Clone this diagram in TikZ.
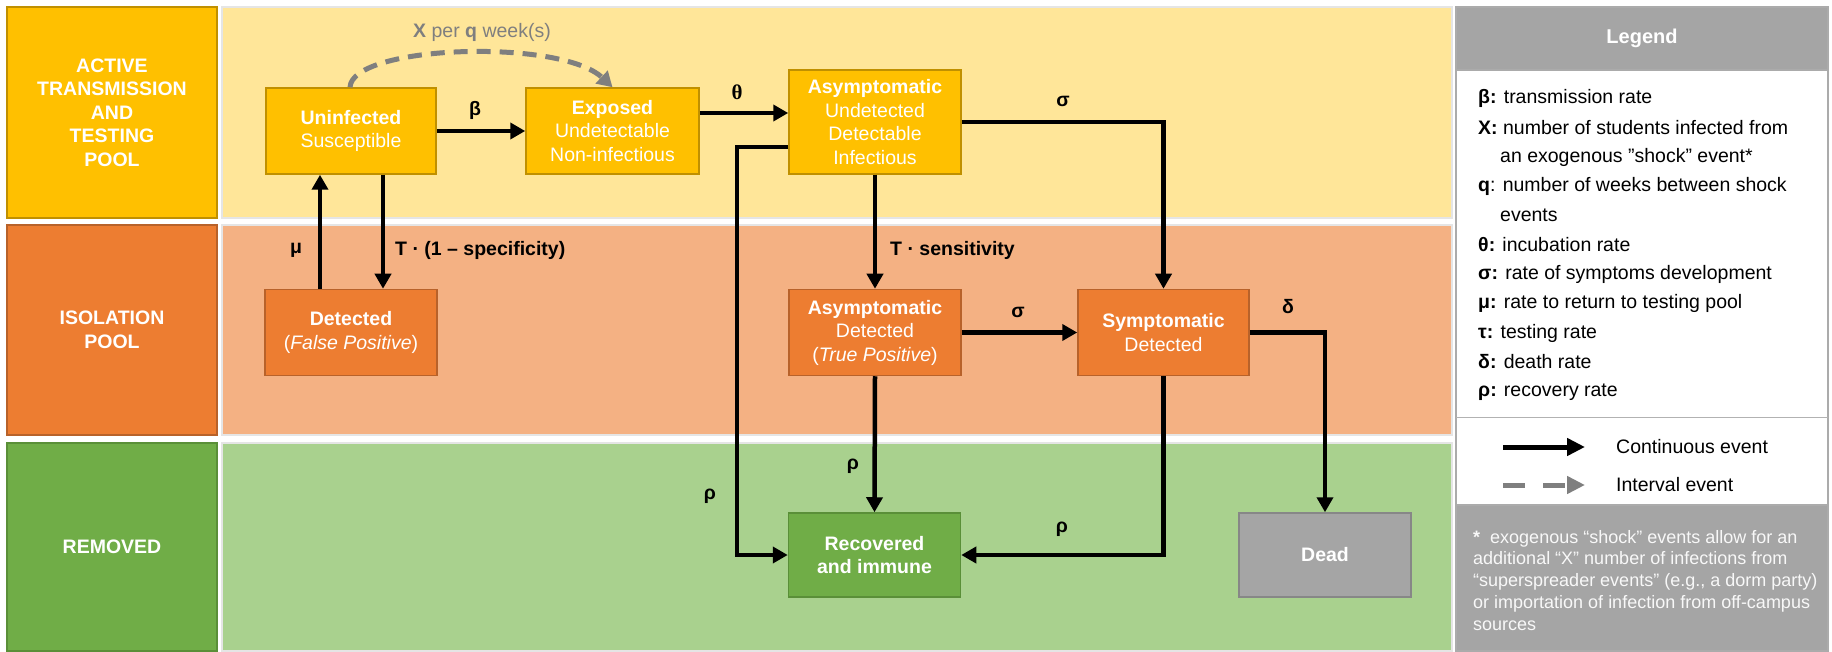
\documentclass[tikz,border=0pt]{standalone}
\usepackage{fontspec}
\setmainfont{Liberation Sans}
\newfontfamily\thetafont{Liberation Serif}
\usetikzlibrary{arrows.meta}
\definecolor{actL}{HTML}{FFC000}
\definecolor{actB}{HTML}{FFE699}
\definecolor{actD}{HTML}{C09000}
\definecolor{isoL}{HTML}{ED7D31}
\definecolor{isoB}{HTML}{F4B183}
\definecolor{isoD}{HTML}{B8622A}
\definecolor{remL}{HTML}{70AD47}
\definecolor{remB}{HTML}{A9D18E}
\definecolor{remD}{HTML}{5A8F38}
\definecolor{gryF}{HTML}{A5A5A5}
\definecolor{gryD}{HTML}{878787}
\definecolor{dashc}{HTML}{7F7F7F}
\newcommand\dfont{\fontsize{19.5}{23.5}\selectfont}
\newcommand\nfont{\fontsize{18}{21.7}\selectfont}
\begin{document}
\begin{tikzpicture}[x=1pt,y=-1pt,
  band/.style={draw=black!10, line width=1.2pt},
  pool/.style={draw, line width=1.5pt, text=white, font=\dfont\bfseries, align=center, inner sep=0pt, minimum width=210pt, minimum height=210pt},
  box/.style={draw, line width=1.5pt, minimum width=172pt, minimum height=86pt, text=white, font=\dfont, align=center, inner sep=0pt},
  arr/.style={line width=4.5pt, -{Triangle[length=15pt,width=16pt]}},
  dasharr/.style={line width=5pt, draw=dashc, dash pattern=on 14pt off 9pt, -{Triangle[length=15pt,width=17pt,fill=dashc]}},
  lbl/.style={font=\dfont\bfseries, inner sep=0pt},
  leg/.style={font=\dfont, anchor=west, inner sep=0pt},
]
\useasboundingbox (0,0) rectangle (1832,652);
\fill[white] (0,0) rectangle (1832,652);
% bands
\filldraw[band, fill=actB] (222,7) rectangle (1452,218);
\filldraw[band, fill=isoB] (222,225) rectangle (1452,435);
\filldraw[band, fill=remB] (222,443) rectangle (1452,651);
% pool labels
\node[pool, fill=actL, draw=actD, minimum height=211pt] (pa) at (112,112.5) {ACTIVE\\TRANSMISSION\\AND\\TESTING\\POOL};
\node[pool, fill=isoL, draw=isoD] (pi) at (112,330) {ISOLATION\\POOL};
\node[pool, fill=remL, draw=remD, minimum height=208pt] (pr) at (112,547) {REMOVED};
% compartments
\node[box, fill=actL, draw=actD, minimum width=170pt] (unf) at (351,131) {\textbf{Uninfected}\\Susceptible};
\node[box, fill=actL, draw=actD, minimum width=173pt] (exp) at (612.5,131) {\textbf{Exposed}\\Undetectable\\Non-infectious};
\node[box, fill=actL, draw=actD, minimum height=104pt] (asym) at (875,122) {\textbf{Asymptomatic}\\Undetected\\Detectable\\Infectious};
\node[box, fill=isoL, draw=isoD] (det) at (351,332.5) {\textbf{Detected}\\(\textit{False Positive})};
\node[box, fill=isoL, draw=isoD] (adet) at (875,332.5) {\textbf{Asymptomatic}\\Detected\\(\textit{True Positive})};
\node[box, fill=isoL, draw=isoD, minimum width=171pt] (sym) at (1163.5,332.5) {\textbf{Symptomatic}\\Detected};
\node[box, fill=remL, draw=remD, minimum height=84pt] (rec) at (874.5,555) {\textbf{Recovered}\\\textbf{and immune}};
\node[box, fill=gryF, draw=gryD, minimum height=84pt] (dead) at (1325,555) {\textbf{Dead}};
% connectors
\coordinate (lc) at (737,147);
\draw[dasharr] (unf.north -| 350,0) .. controls (352,45) and (560,38) .. (exp.north);
\draw[arr] (unf.east) -- (exp.west);
\draw[arr] (exp.east |- 0,113) -- (asym.west |- 0,113);
\draw[arr] (asym.east) -| (sym.north);
\draw[arr] (asym.west |- lc) -- (lc) |- (rec.west);
\draw[arr] (asym.south) -- (adet.north);
\draw[arr] (adet.east) -- (sym.west);
\draw[arr] (adet.south) -- (rec.north);
\draw[arr] (sym.south) |- (rec.east);
\draw[arr] (sym.east) -| (dead.north);
\draw[arr] (unf.south -| 383,0) -- (det.north -| 383,0);
\draw[arr] (det.north -| 320,0) -- (unf.south -| 320,0);
% rate labels
\node[lbl, text=dashc, font=\dfont] (xq) at (482,32) {\textbf{X} per \textbf{q} week(s)};
\node[lbl] (lbeta) at (475,110) {β};
\node[lbl, font=\fontsize{21}{24}\selectfont\thetafont\bfseries] (ltheta) at (737,92) {θ};
\node[lbl] (lsig1) at (1063,101) {σ};
\node[lbl] (lmu) at (296,250) {μ};
\node[lbl, anchor=west] (lspec) at (395,250) {T · (1 – specificity)};
\node[lbl, anchor=west] (lsens) at (890,250) {T · sensitivity};
\node[lbl] (lsig2) at (1018,312) {σ};
\node[lbl] (ldel) at (1288,307) {δ};
\node[lbl] (lrho1) at (710,496) {ρ};
\node[lbl] (lrho2) at (853,466) {ρ};
\node[lbl] (lrho3) at (1062,529) {ρ};
% legend
\fill[gryF] (1456,7) rectangle (1828,70);
\fill[gryF] (1456,505) rectangle (1828,651);
\draw[gryD!70, line width=1.5pt] (1456,7) rectangle (1828,651);
\draw[gryD!70, line width=1.5pt] (1456,70) -- (1828,70);
\draw[black!30, line width=1.5pt] (1456,417.5) -- (1828,417.5);
\draw[gryD!70, line width=1.5pt] (1456,505) -- (1828,505);
\node[font=\fontsize{20}{24}\selectfont\bfseries, text=white] (legt) at (1642,38.5) {Legend};
\node[leg] (l1) at (1478,98) {\textbf{β:} transmission rate};
\node[leg] (l2) at (1478,128) {\textbf{X:} number of students infected from};
\node[leg] (l3) at (1500,157) {an exogenous "shock” event*};
\node[leg] (l4) at (1478,186) {\textbf{q}: number of weeks between shock};
\node[leg] (l5) at (1500,215) {events};
\node[leg] (l6) at (1478,245) {\textbf{θ:} incubation rate};
\node[leg] (l7) at (1478,274) {\textbf{σ:} rate of symptoms development};
\node[leg] (l8) at (1478,303) {\textbf{μ:} rate to return to testing pool};
\node[leg] (l9) at (1478,333) {\textbf{τ:} testing rate};
\node[leg] (l10) at (1478,362) {\textbf{δ:} death rate};
\node[leg] (l11) at (1478,392) {\textbf{ρ:} recovery rate};
\coordinate (ca) at (1503,447);
\coordinate (cb) at (1585,447);
\coordinate (ia) at (1503,485);
\coordinate (ib) at (1585,485);
\draw[arr, line width=5pt, -{Triangle[length=18pt,width=17pt]}] (ca) -- (cb);
\draw[dasharr, dash pattern=on 22pt off 18pt, -{Triangle[length=18pt,width=17pt,fill=dashc]}] (ia) -- (ib);
\node[leg] (tc) at (1616,447) {Continuous event};
\node[leg] (ti) at (1616,485) {Interval event};
\node[anchor=north west, text=white!92!gryF, font=\nfont, align=left, inner sep=0pt] (note) at (1473,530)
 {\textbf{*} \ exogenous “shock” events allow for an\\additional “X” number of infections from\\“superspreader events” (e.g., a dorm party)\\or importation of infection from off-campus\\sources};
\end{tikzpicture}
\end{document}
